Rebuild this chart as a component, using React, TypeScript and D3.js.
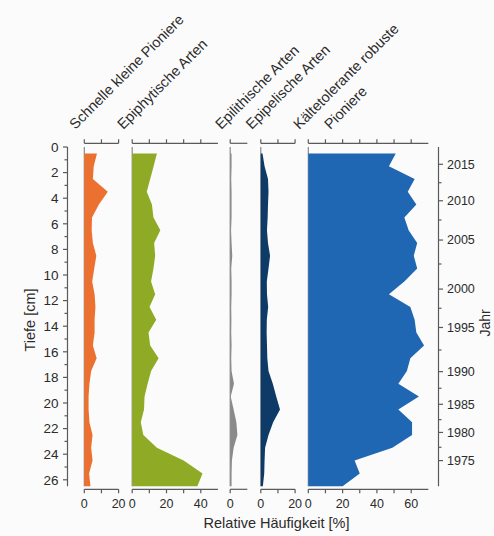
import React from 'react';
import * as d3 from 'd3';

// ---- data ----
const depths = [0.5, 1.5, 2.5, 3.5, 4.5, 5.5, 6.5, 7.5, 8.5, 9.5, 10.5, 11.5, 12.5, 13.5, 14.5, 15.5, 16.5, 17.5, 18.5, 19.5, 20.5, 21.5, 22.5, 23.5, 24.5, 25.5, 26.5];
const schnelleKleinePioniere = [7.4, 5.5, 5.0, 13.7, 8.5, 4.5, 4.3, 5.0, 7.0, 5.8, 4.6, 6.0, 6.5, 6.0, 6.0, 5.0, 7.2, 4.0, 3.0, 2.5, 2.5, 3.0, 4.8, 4.0, 4.8, 2.8, 3.6];
const epiphytischeArten = [14.4, 12.5, 10.5, 8.5, 11.5, 12.4, 16.4, 12.8, 13.4, 12.4, 11.0, 13.4, 10.1, 14.0, 9.5, 10.5, 15.4, 11.0, 9.0, 7.2, 6.9, 5.0, 6.5, 14.4, 30.0, 41.0, 38.0];
const epilithischeArten = [0.8, 0.8, 0.6, 0.8, 0.8, 0.8, 0.5, 0.8, 1.2, 0.6, 0.8, 0.8, 0.6, 0.7, 0.6, 0.8, 0.6, 0.8, 2.2, 0.3, 2.0, 3.6, 4.2, 2.0, 1.0, 0.8, 0.8];
const epipelischeArten = [1.0, 2.2, 4.2, 4.5, 4.2, 4.0, 3.6, 4.2, 5.4, 4.5, 3.5, 3.6, 4.3, 3.5, 3.4, 3.6, 3.8, 4.5, 7.0, 9.0, 11.2, 7.2, 4.5, 2.5, 2.2, 2.0, 1.2];
const kaeltetoleranteRobustePioniere = [51, 47, 62, 58, 63, 56, 58.5, 63.5, 61.5, 63.5, 56, 47, 59.5, 62, 63, 67.5, 59.5, 57.5, 52.5, 64.5, 52.5, 60.5, 60.5, 49, 27, 30, 20];

const depthTicks = [0, 2, 4, 6, 8, 10, 12, 14, 16, 18, 20, 22, 24, 26];
const depthMinorTicks = [1, 3, 5, 7, 9, 11, 13, 15, 17, 19, 21, 23, 25];
const yearLabels = [2015, 2010, 2005, 2000, 1995, 1990, 1985, 1980, 1975];
const yearDepths = [1.35, 4.2, 7.27, 11.1, 14.1, 17.55, 20.1, 22.3, 24.5];
const yearMinorDepths = [2.79, 5.7, 9.14, 12.6, 15.86, 18.85, 21.3, 23.46];

const panelTitles = [["Schnelle kleine Pioniere"], ["Epiphytische Arten"], ["Epilithische Arten"], ["Epipelische Arten"], ["Kältetolerante robuste", "Pioniere"]];
const panelSeries = [schnelleKleinePioniere, epiphytischeArten, epilithischeArten, epipelischeArten, kaeltetoleranteRobustePioniere];
const panelMax = [20, 50, 10, 20, 70];
const panelTicks = [[0, 10, 20], [0, 10, 20, 30, 40], [0], [0, 10, 20], [0, 10, 20, 30, 40, 50, 60]];
const panelTickLabels = [[0, 20], [0, 20, 40], [0], [0, 20], [0, 20, 40, 60]];
const panelColors = ['#ec7130', '#8fab25', '#8a8a8a', '#0d3a66', '#1f66b3'];

// ---- layout ----
const W = 494, H = 536;
const pxPerUnit = 1.715;
const panelLefts = [84.3, 132.2, 230.2, 260.8, 308.3];
const yTop = 147, yBottom = 486.2;
const topAxisY = 143.3, bottomAxisY = 489.3;
const leftAxisX = 67.5, rightAxisX = 438.5;
const FONT = '"Liberation Sans", Arial, Helvetica, sans-serif';
const AXIS = '#5a5a5a';
const TEXT = '#2b2b2b';

export default function App() {
  const y = d3.scaleLinear().domain([0, 26.5]).range([yTop, yBottom]);

  return (
    <svg width={W} height={H} style={{ position: 'absolute', left: 0, top: 0 }} fontFamily={FONT}>
      <rect x={0} y={0} width={W} height={H} fill="#fbfbfb" />

      {panelSeries.map((series, i) => {
        const x = d3.scaleLinear().domain([0, panelMax[i]]).range([panelLefts[i], panelLefts[i] + panelMax[i] * pxPerUnit]);
        const area = d3.area<number>()
          .y((_, j) => y(depths[j]))
          .x0(x(0))
          .x1((v) => x(v));
        const x0 = x(0);
        const x1 = x(panelMax[i]);
        const lx = panelLefts[i];
        return (
          <g key={i}>
            <line x1={x0} x2={x0} y1={y(0)} y2={y(26.5)} stroke="#8a8a8a" strokeWidth={1.2} />
            <path d={area(series) || ''} fill={panelColors[i]} />
            {/* top axis */}
            <line x1={x0} x2={x1} y1={topAxisY} y2={topAxisY} stroke={AXIS} strokeWidth={1.2} />
            {panelTicks[i].map((t) => (
              <line key={'tt' + t} x1={x(t)} x2={x(t)} y1={topAxisY} y2={topAxisY - 4} stroke={AXIS} strokeWidth={1.2} />
            ))}
            {/* bottom axis */}
            <line x1={x0} x2={x1} y1={bottomAxisY} y2={bottomAxisY} stroke={AXIS} strokeWidth={1.2} />
            {panelTicks[i].map((t) => (
              <line key={'bt' + t} x1={x(t)} x2={x(t)} y1={bottomAxisY} y2={bottomAxisY + 4} stroke={AXIS} strokeWidth={1.2} />
            ))}
            {panelTickLabels[i].map((t) => (
              <text key={'bl' + t} x={x(t)} y={508} textAnchor="middle" fontSize={12.5} fill={TEXT}>{t}</text>
            ))}
            {/* rotated titles */}
            <text transform={`translate(${lx - 9},${130}) rotate(-45)`} fontSize={14.5} fill={TEXT}>{panelTitles[i][0]}</text>
            {panelTitles[i][1] && (
              <text transform={`translate(${lx + 22},${130}) rotate(-45)`} fontSize={14.5} fill={TEXT}>{panelTitles[i][1]}</text>
            )}
          </g>
        );
      })}

      {/* left depth axis */}
      <line x1={leftAxisX} x2={leftAxisX} y1={y(0)} y2={y(26.5)} stroke={AXIS} strokeWidth={1.2} />
      {depthTicks.map((t) => (
        <g key={'d' + t}>
          <line x1={leftAxisX} x2={leftAxisX - 4.5} y1={y(t)} y2={y(t)} stroke={AXIS} strokeWidth={1.2} />
          <text x={leftAxisX - 9} y={y(t)} dy="0.35em" textAnchor="end" fontSize={13.5} fill={TEXT}>{t}</text>
        </g>
      ))}
      {depthMinorTicks.map((t) => (
        <line key={'dm' + t} x1={leftAxisX} x2={leftAxisX - 3} y1={y(t)} y2={y(t)} stroke={AXIS} strokeWidth={1.2} />
      ))}
      <text transform={`translate(35,${320}) rotate(-90)`} textAnchor="middle" fontSize={14.5} fill={TEXT}>Tiefe [cm]</text>

      {/* right year axis */}
      <line x1={rightAxisX} x2={rightAxisX} y1={y(0)} y2={y(26.5)} stroke={AXIS} strokeWidth={1.2} />
      {yearLabels.map((yr, i) => (
        <g key={'y' + yr}>
          <line x1={rightAxisX} x2={rightAxisX + 4.5} y1={y(yearDepths[i])} y2={y(yearDepths[i])} stroke={AXIS} strokeWidth={1.2} />
          <text x={rightAxisX + 8.5} y={y(yearDepths[i])} dy="0.35em" fontSize={12.5} fill={TEXT}>{yr}</text>
        </g>
      ))}
      {yearMinorDepths.map((d) => (
        <line key={'ym' + d} x1={rightAxisX} x2={rightAxisX + 3} y1={y(d)} y2={y(d)} stroke={AXIS} strokeWidth={1.2} />
      ))}
      <text transform={`translate(490,${323}) rotate(-90)`} textAnchor="middle" fontSize={14} fill={TEXT}>Jahr</text>

      <text x={276.5} y={528} textAnchor="middle" fontSize={14.5} fill={TEXT}>Relative Häufigkeit [%]</text>
    </svg>
  );
}
